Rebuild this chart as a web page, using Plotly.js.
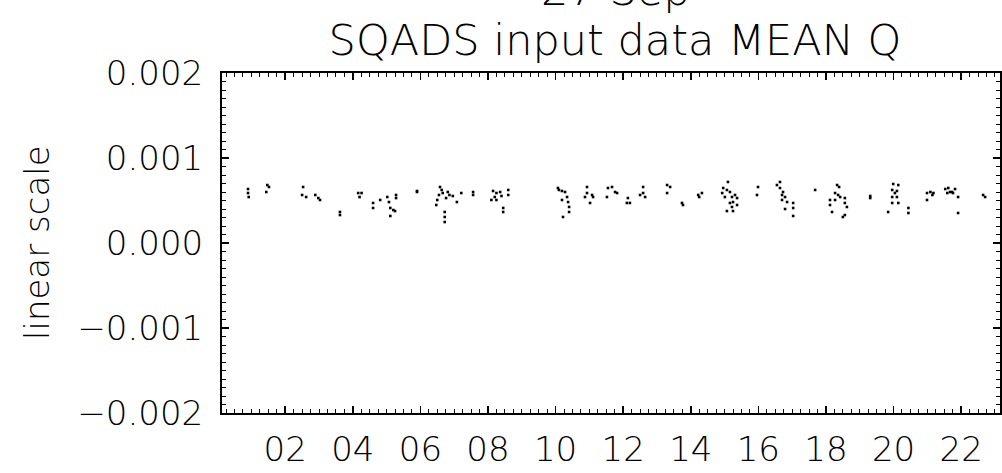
<!DOCTYPE html>
<html>
<head>
<meta charset="utf-8">
<script src="https://cdn.plot.ly/plotly-3.0.1.min.js"></script>
<style>html,body{margin:0;padding:0;background:#fff;}#chart{width:1002px;height:473px;}</style>
</head>
<body>
<div id="chart"></div>
<script>
// Hours of day (UT) of each sample
const hours = [
  0.90,0.90,0.92,
  1.47,1.52,1.44,
  2.53,2.50,2.62,
  2.89,2.98,3.03,
  3.62,3.62,
  4.16,4.26,4.20,
  4.60,4.60,4.81,
  5.02,5.07,5.28,5.28,
  5.11,5.20,5.25,5.11,
  5.90,5.90,
  6.58,6.63,6.55,6.66,6.81,6.86,6.76,6.96,7.08,7.21,6.50,6.47,6.72,6.72,6.72,
  7.56,7.56,
  8.15,8.25,8.36,8.20,8.10,8.25,8.40,8.60,8.60,8.45,8.45,
  10.07,10.19,10.28,10.34,10.19,10.37,10.40,10.40,10.22,10.10,
  10.93,10.93,10.87,11.08,11.11,11.02,
  11.55,11.67,11.76,11.82,11.52,12.14,12.20,12.11,
  12.59,12.59,12.65,12.50,
  13.30,13.39,13.30,
  13.74,13.77,
  14.22,14.33,14.25,
  15.10,14.96,15.07,14.93,15.16,15.01,15.22,15.31,15.37,15.25,15.16,15.37,15.22,15.07,15.25,
  15.99,15.96,
  16.64,16.55,16.64,16.73,16.70,16.79,16.70,16.85,17.03,17.03,16.79,17.03,
  17.68,
  18.33,18.39,18.27,18.36,18.42,18.12,18.27,18.56,18.12,18.18,18.56,18.62,18.56,18.50,
  19.31,19.31,
  19.99,20.14,19.96,20.10,20.04,19.96,20.10,20.14,19.96,19.84,20.44,20.44,
  20.99,21.09,21.18,20.99,21.15,
  21.53,21.62,21.73,21.82,21.59,21.76,21.91,21.91,21.67,
  22.65,22.71
];
// MEAN Q values
const meanQ = [
  0.000635,0.000588,0.000541,
  0.000682,0.000659,0.000600,
  0.000659,0.000565,0.000541,
  0.000565,0.000529,0.000506,
  0.000365,0.000329,
  0.000588,0.000588,0.000541,
  0.000471,0.000412,0.000506,
  0.000541,0.000482,0.000565,0.000529,
  0.000412,0.000388,0.000376,0.000318,
  0.000612,0.000600,
  0.000659,0.000624,0.000565,0.000588,0.000600,0.000565,0.000529,0.000553,0.000482,0.000588,0.000506,0.000447,0.000365,0.000306,0.000247,
  0.000600,0.000565,
  0.000612,0.000588,0.000600,0.000541,0.000506,0.000506,0.000553,0.000624,0.000565,0.000412,0.000365,
  0.000647,0.000612,0.000600,0.000541,0.000506,0.000482,0.000424,0.000365,0.000306,0.000624,
  0.000659,0.000588,0.000541,0.000565,0.000541,0.000471,
  0.000647,0.000659,0.000600,0.000588,0.000541,0.000529,0.000471,0.000471,
  0.000659,0.000588,0.000541,0.000565,
  0.000682,0.000659,0.000588,
  0.000471,0.000447,
  0.000565,0.000588,0.000541,
  0.000718,0.000647,0.000624,0.000588,0.000600,0.000541,0.000541,0.000565,0.000529,0.000482,0.000471,0.000447,0.000424,0.000376,0.000376,
  0.000659,0.000565,
  0.000718,0.000682,0.000647,0.000600,0.000565,0.000541,0.000506,0.000482,0.000471,0.000412,0.000400,0.000318,
  0.000624,
  0.000682,0.000659,0.000588,0.000565,0.000541,0.000506,0.000506,0.000529,0.000447,0.000365,0.000471,0.000424,0.000329,0.000306,
  0.000553,0.000529,
  0.000694,0.000682,0.000624,0.000612,0.000588,0.000541,0.000541,0.000471,0.000471,0.000365,0.000412,0.000353,
  0.000588,0.000600,0.000588,0.000506,0.000565,
  0.000635,0.000647,0.000600,0.000635,0.000588,0.000588,0.000541,0.000353,0.000600,
  0.000565,0.000541
];
const xTickVals = [2,4,6,8,10,12,14,16,18,20,22];
const xTickText = ['02','04','06','08','10','12','14','16','18','20','22'];
const yTickVals = [-0.002,-0.001,0,0.001,0.002];
const yTickText = ['\u22120.002','\u22120.001','0.000','0.001','0.002'];
const dateLine = '27 Sep';
const titleText = 'SQADS input data MEAN Q';
const yLabel = 'linear scale';

const FONT = 'DejaVu Sans ExtraLight, DejaVu Sans Light, DejaVu Sans, sans-serif';

const trace = {
  x: hours, y: meanQ, type: 'scatter', mode: 'markers',
  marker: {color: '#000', size: 2.6, symbol: 'square', line: {width: 0}},
  hoverinfo: 'skip'
};

const axisCommon = {
  showline: true, linecolor: '#000', linewidth: 2, mirror: 'ticks',
  ticks: 'inside', tickcolor: '#000', tickwidth: 1.5, ticklen: 7,
  showgrid: false, zeroline: false,
  tickfont: {family: FONT, size: 34, color: '#000', weight: 200}
};

const layout = {
  width: 1002, height: 473,
  margin: {l: 222, r: 2, t: 73, b: 60, pad: 0},
  paper_bgcolor: '#fff', plot_bgcolor: '#fff',
  showlegend: false,
  title: {text: titleText, font: {family: FONT, size: 43, color: '#000', weight: 200},
          xref: 'container', x: 615/1002, xanchor: 'center',
          yref: 'container', y: 1 - 40/473, yanchor: 'middle'},
  xaxis: Object.assign({}, axisCommon, {
    range: [0.13, 23.15], tickmode: 'array', tickvals: xTickVals, ticktext: xTickText,
    ticklabelstandoff: 5,
    minor: {dtick: 0.25, ticks: 'inside', ticklen: 4, tickcolor: '#000', tickwidth: 1, showgrid: false}
  }),
  yaxis: Object.assign({}, axisCommon, {
    range: [-0.002, 0.002], tickmode: 'array', tickvals: yTickVals, ticktext: yTickText,
    ticklabelstandoff: 10,
    minor: {dtick: 0.0001, ticks: 'inside', ticklen: 4, tickcolor: '#000', tickwidth: 1, showgrid: false}
  }),
  annotations: [
    {text: dateLine, xref: 'paper', yref: 'paper', x: (615-222)/778, y: 1 + 83/340,
     xanchor: 'center', yanchor: 'middle', showarrow: false,
     font: {family: FONT, size: 43, color: '#000', weight: 200}},
    {text: yLabel, xref: 'paper', yref: 'paper', x: (37-222)/778, y: 0.5,
     xanchor: 'center', yanchor: 'middle', textangle: -90, showarrow: false,
     font: {family: FONT, size: 34, color: '#000', weight: 200}}
  ]
};

Plotly.newPlot('chart', [trace], layout, {staticPlot: true, displayModeBar: false});
</script>
</body>
</html>
